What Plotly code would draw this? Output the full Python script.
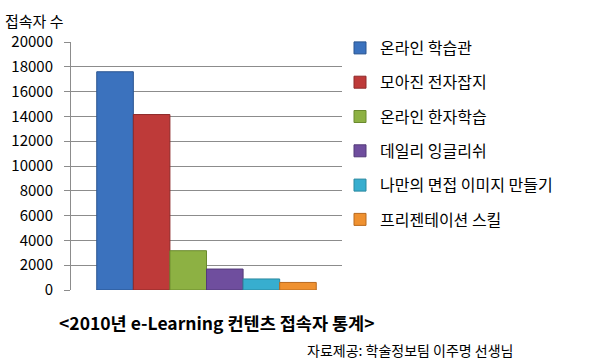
import plotly.graph_objects as go

series = ["온라인 학습관", "모아진 전자잡지", "온라인 한자학습", "데일리 잉글리쉬", "나만의 면접 이미지 만들기", "프리젠테이션 스킬"]
values = [17600, 14150, 3170, 1690, 890, 610]
colors = ["#3B72BE", "#BE3A39", "#8DB143", "#6F4E9E", "#37AECF", "#EF9130"]
lines = ["#2A5590", "#8E2A2A", "#6A8A2E", "#533A78", "#2A889F", "#B96A1F"]
yticks = [0, 2000, 4000, 6000, 8000, 10000, 12000, 14000, 16000, 18000, 20000]

FONT = "Noto Sans CJK KR"
fig = go.Figure()
for i, (s, v, c, l) in enumerate(zip(series, values, colors, lines)):
    fig.add_trace(go.Bar(x=[""], y=[v], name=s, legendgroup="g%d" % i,
                         marker=dict(color=c, line=dict(color=l, width=1))))

W, H = 596, 362
left, right, top, bottom = 71, 342, 42, 290
pw, ph = right - left, bottom - top

def px(x):
    return (x - left) / pw

def py(y):
    return (bottom - y) / ph

fig.update_layout(
    width=W, height=H,
    margin=dict(l=left, r=W - right, t=top, b=H - bottom),
    paper_bgcolor="white", plot_bgcolor="white",
    barmode="group", bargap=0.19, bargroupgap=0,
    font=dict(family=FONT, size=14, color="black"),
    showlegend=True,
    legend=dict(x=px(340), xanchor="left", y=py(31), yanchor="top", maxheight=1,
                font=dict(size=16, family=FONT), tracegroupgap=10.5, itemwidth=30,
                bgcolor="rgba(0,0,0,0)"),
    xaxis=dict(showticklabels=False, showgrid=False, zeroline=False, showline=False, fixedrange=True),
    yaxis=dict(range=[0, 20000], tickvals=yticks, ticktext=[str(t) for t in yticks],
               showgrid=True, gridcolor="#8C8C8C", gridwidth=1,
               showline=True, linecolor="#8C8C8C", linewidth=1,
               ticks="outside", ticklen=6, tickcolor="#8C8C8C", ticklabelstandoff=8,
               zeroline=False, tickfont=dict(size=15, family=FONT, color="black")),
    annotations=[
        dict(text="접속자 수", x=px(3), y=py(20), xref="paper", yref="paper", showarrow=False,
             xanchor="left", yanchor="middle", font=dict(size=15, family=FONT)),
        dict(text="<b>&lt;2010년 e-Learning 컨텐츠 접속자 통계&gt;</b>", x=px(57), y=py(322), xref="paper", yref="paper",
             showarrow=False, xanchor="left", yanchor="middle", font=dict(size=17.5, family=FONT)),
        dict(text="자료제공: 학술정보팀 이주명 선생님", x=px(516), y=py(350), xref="paper", yref="paper",
             showarrow=False, xanchor="right", yanchor="middle", font=dict(size=14, family=FONT)),
    ],
)
fig.write_html("out.html")
